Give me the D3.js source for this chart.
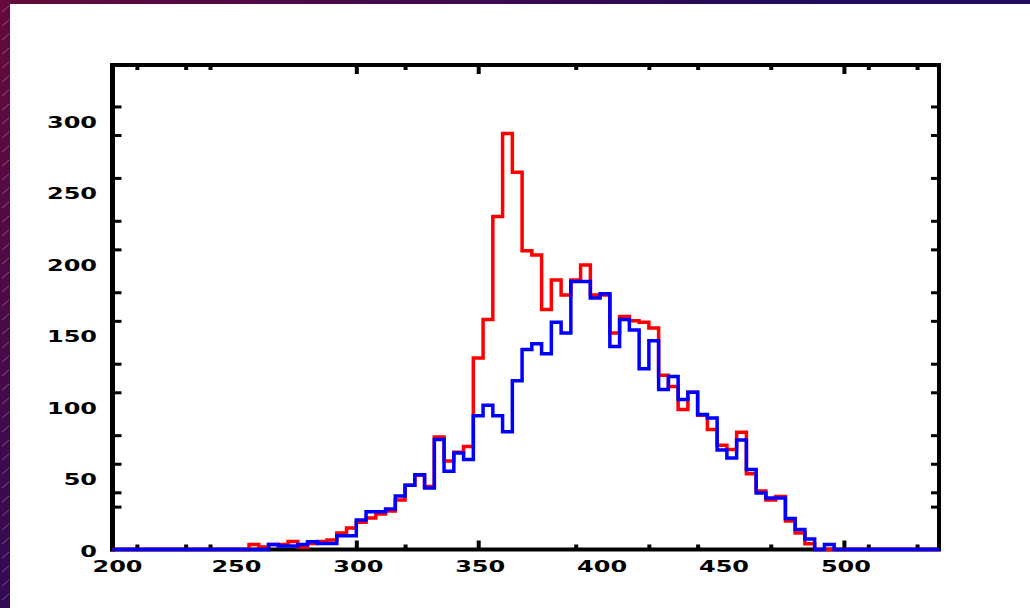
<!DOCTYPE html>
<html>
<head>
<meta charset="utf-8">
<script src="https://cdn.jsdelivr.net/npm/d3@7"></script>
<style>
body { margin: 0; overflow: hidden; background: #fff; }
</style>
</head>
<body>
<div id="chart"></div>
<script>
// histogram bins (start of each 4-unit bin)
const binStart = [256, 260, 264, 268, 272, 276, 280, 284, 288, 292,
                  296, 300, 304, 308, 312, 316, 320, 324, 328, 332,
                  336, 340, 344, 348, 352, 356, 360, 364, 368, 372,
                  376, 380, 384, 388, 392, 396, 400, 404, 408, 412,
                  416, 420, 424, 428, 432, 436, 440, 444, 448, 452,
                  456, 460, 464, 468, 472, 476, 480, 484, 488, 492]

const redCounts = [3.5, 1.7, 3.5, 3.5, 5.6, 1.7, 4.2, 5.6, 6.6, 11.5,
                   15, 19, 22, 24.8, 27, 34.6, 45, 52, 44, 78.7,
                   62, 68, 72, 134, 161, 233, 291, 264, 209, 206,
                   168, 188.6, 178, 188.6, 199, 178, 178, 151.5, 163, 160,
                   159, 155, 122, 114, 98, 110, 94, 84, 73, 70,
                   82, 53, 41, 34.6, 37, 20, 11.5, 4, 0, 0]

const blueCounts = [0, 0, 3.5, 2.5, 2.5, 3.5, 5.5, 4.2, 4.2, 9.6,
                    9.6, 20.6, 26.4, 26.4, 28.3, 37.4, 45, 52.3, 43, 77,
                    54.7, 67.6, 63, 93.6, 101, 93.6, 82.4, 118, 140, 144,
                    137, 159, 151.5, 187.5, 187.5, 176, 179, 142, 161, 153.6,
                    126.5, 146, 112, 121, 105, 110, 94.5, 92, 69.6, 64,
                    76.6, 56, 39.5, 36, 36, 21.7, 14, 7.3, 0, 3.5]

const xLabels = [200, 250, 300, 350, 400, 450, 500]
const xMajorTicks = [300, 350, 500]
const xMinorTicks = [210, 230, 240, 320, 390, 420, 440, 470, 510, 530]
const yLabels = [0, 50, 100, 150, 200, 250, 300]
const yTicks = [30, 40, 60, 80, 110, 130, 160, 180, 210, 230, 260, 290, 310]

const width = 1030
const height = 608
const plot = {left: 112.5, right: 939, top: 65, bottom: 549.5}

let svg = d3.select("#chart")
            .append("svg")
                .attr("width", width)
                .attr("height", height)

// slide background
let defs = svg.append("defs")
let grad = defs.append("linearGradient")
    .attr("id", "bg")
    .attr("gradientUnits", "userSpaceOnUse")
    .attr("x1", 0).attr("y1", 0).attr("x2", 420).attr("y2", 420)
grad.append("stop").attr("offset", 0).attr("stop-color", "#660a3a")
grad.append("stop").attr("offset", 1).attr("stop-color", "#1e0a5e")

let pat = defs.append("pattern")
    .attr("id", "dashes")
    .attr("patternUnits", "userSpaceOnUse")
    .attr("width", 18).attr("height", 14)
pat.append("line")
    .attr("x1", 2).attr("y1", 12).attr("x2", 9).attr("y2", 6)
    .style("stroke", "rgba(255,210,235,0.35)")
    .style("stroke-width", 1)

svg.append("rect").attr("width", width).attr("height", height).style("fill", "url(#bg)")
svg.append("rect").attr("width", width).attr("height", height).style("fill", "url(#dashes)")
svg.append("rect")
    .attr("x", 10).attr("y", 4)
    .attr("width", width - 10).attr("height", height - 4)
    .style("fill", "#fff")

let x = d3.scaleLinear().domain([200, 539]).range([plot.left, plot.right])
let y = d3.scaleLinear().domain([0, 339]).range([plot.bottom, plot.top])

// frame
svg.append("rect")
    .attr("x", plot.left).attr("y", plot.top)
    .attr("width", plot.right - plot.left).attr("height", plot.bottom - plot.top)
    .style("fill", "none")
    .style("stroke", "black")
    .style("stroke-width", 4)
svg.append("line")
    .attr("x1", plot.left).attr("x2", plot.left)
    .attr("y1", plot.top - 2).attr("y2", plot.bottom + 2)
    .style("stroke", "black")
    .style("stroke-width", 5)

// ticks, pointing inward on all four sides
function tickAxis(axis, tx, ty, vals, size, w) {
    let g = svg.append("g")
        .attr("transform", `translate(${tx}, ${ty})`)
        .call(axis.tickValues(vals).tickSize(size).tickFormat(""))
    g.select(".domain").remove()
    g.selectAll("line").style("stroke", "black").style("stroke-width", w)
}
tickAxis(d3.axisTop(x), 0, plot.bottom, xMinorTicks, 5, 4)
tickAxis(d3.axisTop(x), 0, plot.bottom, xMajorTicks, 9, 4)
tickAxis(d3.axisBottom(x), 0, plot.top, xMinorTicks, 5, 4)
tickAxis(d3.axisBottom(x), 0, plot.top, xMajorTicks, 9, 4)
tickAxis(d3.axisRight(y), plot.left, 0, yTicks, 9, 3)
tickAxis(d3.axisLeft(y), plot.right, 0, yTicks, 8, 3)

// histograms
function steps(counts) {
    let pts = [[200, 0]]
    binStart.forEach((b, i) => pts.push([b, counts[i]]))
    pts.push([binStart[binStart.length - 1] + 4, 0])
    pts.push([539, 0])
    return pts
}
let line = d3.line()
    .x(d => x(d[0]))
    .y(d => y(d[1]))
    .curve(d3.curveStepAfter)

svg.append("path")
    .attr("d", line(steps(redCounts)))
    .style("fill", "none")
    .style("stroke", "#ff0000")
    .style("stroke-width", 3.5)

svg.append("path")
    .attr("d", line(steps(blueCounts)))
    .style("fill", "none")
    .style("stroke", "#0000ff")
    .style("stroke-width", 3.5)

// labels (wide, blocky)
svg.selectAll(".ylab")
    .data(yLabels)
    .enter()
    .append("text")
        .attr("transform", d => `translate(97, ${y(d) + 7}) scale(1.5, 1)`)
        .attr("text-anchor", "end")
        .attr("font-family", "DejaVu Sans")
        .attr("font-weight", "bold")
        .attr("font-size", "16px")
        .attr("fill", "black")
        .text(d => d)

svg.selectAll(".xlab")
    .data(xLabels)
    .enter()
    .append("text")
        .attr("transform", d => `translate(${x(d) + (d == 200 ? 5 : 2)}, 572) scale(1.5, 1)`)
        .attr("text-anchor", "middle")
        .attr("font-family", "DejaVu Sans")
        .attr("font-weight", "bold")
        .attr("font-size", "16px")
        .attr("fill", "black")
        .text(d => d)
</script>
</body>
</html>
